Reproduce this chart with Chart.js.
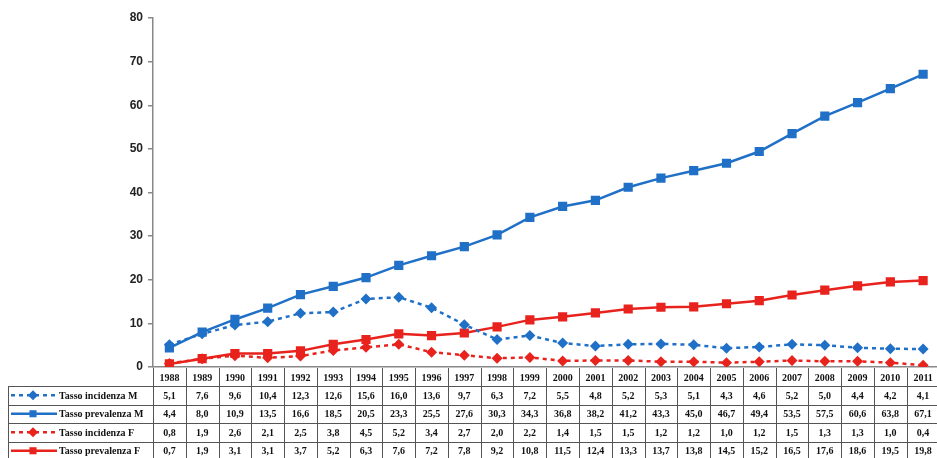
<!DOCTYPE html>
<html>
<head>
<meta charset="utf-8">
<script src="https://cdn.jsdelivr.net/npm/chart.js@4/dist/chart.umd.min.js"></script>
<style>
  html, body { margin: 0; padding: 0; background: #fff; }
  #wrap { width: 937px; height: 458px; overflow: hidden; position: relative; }
  #wrap canvas { position: absolute; left: 0; top: 0; }
</style>
</head>
<body>
<div id="wrap"><canvas id="chart" width="946" height="458"></canvas></div>
<script>
const years = ['1988','1989','1990','1991','1992','1993','1994','1995','1996','1997','1998','1999',
               '2000','2001','2002','2003','2004','2005','2006','2007','2008','2009','2010','2011'];
const incidenzaM = [5.1, 7.6, 9.6, 10.4, 12.3, 12.6, 15.6, 16.0, 13.6, 9.7, 6.3, 7.2,
                    5.5, 4.8, 5.2, 5.3, 5.1, 4.3, 4.6, 5.2, 5.0, 4.4, 4.2, 4.1];
const prevalenzaM = [4.4, 8.0, 10.9, 13.5, 16.6, 18.5, 20.5, 23.3, 25.5, 27.6, 30.3, 34.3,
                     36.8, 38.2, 41.2, 43.3, 45.0, 46.7, 49.4, 53.5, 57.5, 60.6, 63.8, 67.1];
const incidenzaF = [0.8, 1.9, 2.6, 2.1, 2.5, 3.8, 4.5, 5.2, 3.4, 2.7, 2.0, 2.2,
                    1.4, 1.5, 1.5, 1.2, 1.2, 1.0, 1.2, 1.5, 1.3, 1.3, 1.0, 0.4];
const prevalenzaF = [0.7, 1.9, 3.1, 3.1, 3.7, 5.2, 6.3, 7.6, 7.2, 7.8, 9.2, 10.8,
                     11.5, 12.4, 13.3, 13.7, 13.8, 14.5, 15.2, 16.5, 17.6, 18.6, 19.5, 19.8];
const yTicks = [0, 10, 20, 30, 40, 50, 60, 70, 80];

const BLUE = '#1f70c6';
const RED = '#e8221c';

function fmt(v){ return v.toFixed(1).replace('.', ','); }

function series(label, data, color, dashed){
  return {
    label, data,
    borderColor: color,
    backgroundColor: color,
    borderWidth: 2.5,
    borderDash: dashed ? [4, 4] : [],
    pointStyle: dashed ? 'rectRot' : 'rect',
    pointRadius: dashed ? 5.5 : 6.5,
    pointBorderWidth: 0,
    tension: 0
  };
}

const datasets = [
  series('Tasso incidenza M', incidenzaM, BLUE, true),
  series('Tasso prevalenza M', prevalenzaM, BLUE, false),
  series('Tasso incidenza F', incidenzaF, RED, true),
  series('Tasso prevalenza F', prevalenzaF, RED, false)
];

// table under the plot, built from the same arrays
const dataTable = {
  id: 'dataTable',
  afterDraw(chart){
    const { ctx, chartArea, scales: { x } } = chart;
    const colW = x.getPixelForValue(1) - x.getPixelForValue(0);
    const top = chartArea.bottom + 1;
    const headH = 18, rowH = 18.5;
    const left = 8;
    const right = chart.width;
    const bottom = chart.height;

    ctx.save();
    ctx.strokeStyle = '#555';
    ctx.lineWidth = 1;

    // horizontal lines
    for (let r = 0; r < 4; r++){
      const yy = Math.round(top + headH + r * rowH) + 0.5;
      ctx.beginPath(); ctx.moveTo(left, yy); ctx.lineTo(right, yy); ctx.stroke();
    }
    // legend column left border
    ctx.beginPath(); ctx.moveTo(left + 0.5, top + headH); ctx.lineTo(left + 0.5, bottom); ctx.stroke();
    // column borders
    for (let i = 0; i <= years.length; i++){
      const xx = Math.round(x.getPixelForValue(i) - colW / 2) + 0.5;
      ctx.beginPath(); ctx.moveTo(xx, top); ctx.lineTo(xx, bottom); ctx.stroke();
    }

    ctx.fillStyle = '#111';
    ctx.textAlign = 'center';
    ctx.textBaseline = 'middle';
    ctx.font = 'bold 10px "Liberation Serif"';
    years.forEach((yr, i) => ctx.fillText(yr, x.getPixelForValue(i), top + headH / 2 + 1));

    datasets.forEach((ds, r) => {
      const cy = top + headH + r * rowH + rowH / 2 + 1;
      ctx.textAlign = 'center';
      ctx.fillStyle = '#111';
      ds.data.forEach((v, i) => ctx.fillText(fmt(v), x.getPixelForValue(i), cy));

      // legend sample
      ctx.strokeStyle = ds.borderColor;
      ctx.lineWidth = 2.5;
      ctx.setLineDash(ds.borderDash);
      ctx.beginPath(); ctx.moveTo(11, cy - 1); ctx.lineTo(57, cy - 1); ctx.stroke();
      ctx.setLineDash([]);
      ctx.fillStyle = ds.borderColor;
      Chart.helpers.drawPoint(ctx, { pointStyle: ds.pointStyle, radius: 5, borderWidth: 0 }, 33, cy - 1);
      ctx.fillStyle = '#111';
      ctx.textAlign = 'left';
      ctx.fillText(ds.label, 59, cy);
      ctx.strokeStyle = '#555';
      ctx.lineWidth = 1;
    });
    ctx.restore();
  }
};

new Chart(document.getElementById('chart'), {
  type: 'line',
  data: { labels: years, datasets },
  options: {
    responsive: false,
    animation: false,
    layout: { padding: { top: 18, right: 0, left: 0, bottom: 0 } },
    plugins: { legend: { display: false }, tooltip: { enabled: false } },
    scales: {
      x: {
        offset: true,
        ticks: { display: false },
        grid: { display: false },
        border: { display: true, color: '#888', width: 1.5 },
        afterFit: s => { s.height = 91; }
      },
      y: {
        min: 0, max: 80,
        afterBuildTicks: s => { s.ticks = yTicks.map(v => ({ value: v })); },
        ticks: {
          color: '#222',
          padding: 5,
          font: { family: '"Liberation Sans"', size: 12, weight: 'bold' }
        },
        grid: { drawOnChartArea: false, tickLength: 5, color: '#888', lineWidth: 1.5 },
        border: { color: '#888', width: 1.5 },
        afterFit: s => { s.width = 153; }
      }
    }
  },
  plugins: [dataTable]
});
</script>
</body>
</html>
